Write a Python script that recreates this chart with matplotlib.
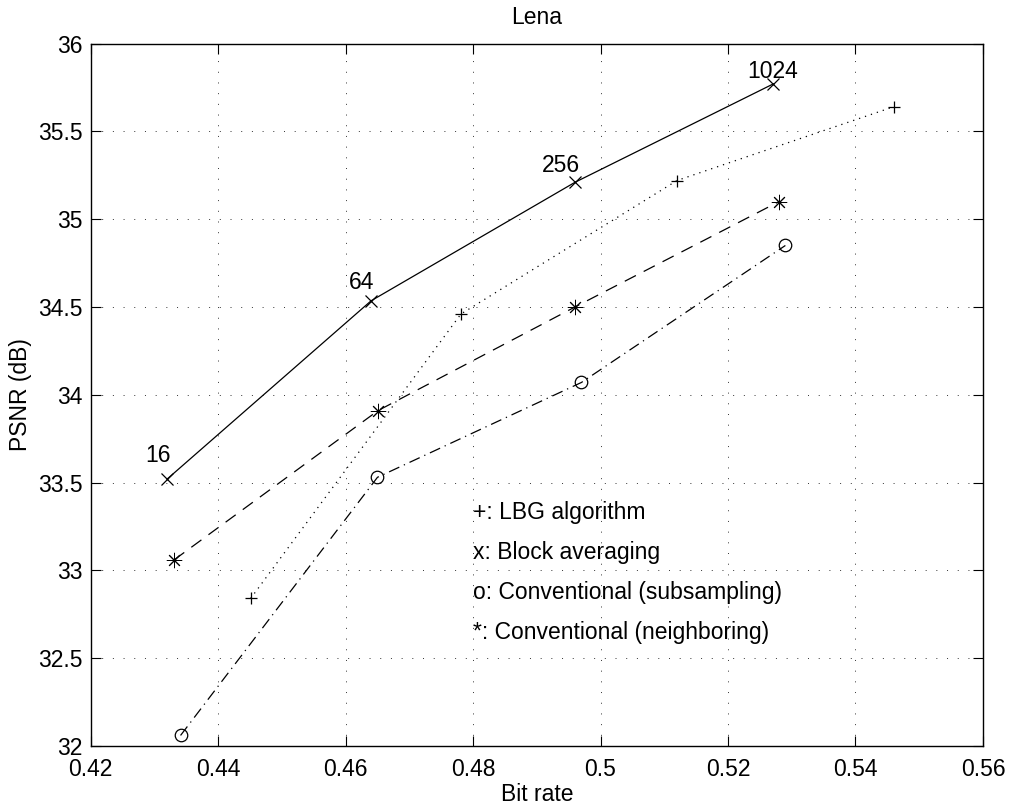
import matplotlib
matplotlib.use('Agg')
import matplotlib.pyplot as plt

plt.rcParams['font.family'] = ['Liberation Sans', 'DejaVu Sans']

# bit rate / PSNR for each method
lbg_rate = [0.4451, 0.4781, 0.5120, 0.5460]
lbg_psnr = [32.84, 34.46, 35.22, 35.64]

block_rate = [0.4320, 0.4640, 0.4960, 0.5271]
block_psnr = [33.52, 34.535, 35.21, 35.77]
block_labels = ['16', '64', '256', '1024']

sub_rate = [0.4341, 0.4650, 0.4970, 0.5290]
sub_psnr = [32.06, 33.53, 34.07, 34.85]

nb_rate = [0.4331, 0.4651, 0.4960, 0.5280]
nb_psnr = [33.06, 33.91, 34.50, 35.10]

legend_lines = ['+: LBG algorithm', 'x: Block averaging',
                'o: Conventional (subsampling)', '*: Conventional (neighboring)']

fig = plt.figure(figsize=(10.12, 8.09), dpi=100)
ax = fig.add_axes([0.0896, 0.0779, 0.8817, 0.8683])

fs = 16.5
lw = 0.9
asterisk = (8, 2, 0)

ax.plot(lbg_rate, lbg_psnr, color='k', linestyle=(0, (1, 4)), linewidth=lw,
        marker='+', markersize=9, markeredgewidth=lw)
ax.plot(block_rate, block_psnr, color='k', linestyle='-', linewidth=lw,
        marker='x', markersize=9, markeredgewidth=lw)
ax.plot(sub_rate, sub_psnr, color='k', linestyle=(0, (9, 4, 1, 4)), linewidth=lw,
        marker='o', markersize=9, markerfacecolor='none', markeredgewidth=lw)
ax.plot(nb_rate, nb_psnr, color='k', linestyle=(0, (10, 7)), linewidth=lw,
        marker=asterisk, markersize=11, markeredgewidth=0.7)

# codebook size labels near the block averaging points
offsets = [(-16, 17), (-16, 13), (-24, 12), (-19, 9)]
for x, y, lab, off in zip(block_rate, block_psnr, block_labels, offsets):
    ax.annotate(lab, (x, y), xytext=off, textcoords='offset points',
                ha='left', va='center', fontsize=fs)

# text legend
for i, line in enumerate(legend_lines):
    ax.text(0.48, 33.33 - i * 0.2275, line, ha='left', va='center', fontsize=fs)

ax.set_xlim(0.42, 0.56)
ax.set_ylim(32, 36)
ax.set_xticks([0.42, 0.44, 0.46, 0.48, 0.5, 0.52, 0.54, 0.56])
ax.set_xticklabels(['0.42', '0.44', '0.46', '0.48', '0.5', '0.52', '0.54', '0.56'])
ax.set_yticks([32, 32.5, 33, 33.5, 34, 34.5, 35, 35.5, 36])
ax.set_yticklabels(['32', '32.5', '33', '33.5', '34', '34.5', '35', '35.5', '36'])
ax.tick_params(direction='in', top=True, right=True, length=7, width=0.8,
               labelsize=fs)
ax.tick_params(axis='x', pad=9)
ax.tick_params(axis='y', pad=6)
ax.grid(True, color='#333333', linestyle=(0, (1, 10)), linewidth=0.7)
for s in ax.spines.values():
    s.set_linewidth(1.0)

ax.set_title('Lena', fontsize=fs, pad=14)
ax.set_xlabel('Bit rate', fontsize=fs, labelpad=1)
ax.set_ylabel('PSNR (dB)', fontsize=fs, labelpad=4)

fig.savefig('out.png', dpi=100)
